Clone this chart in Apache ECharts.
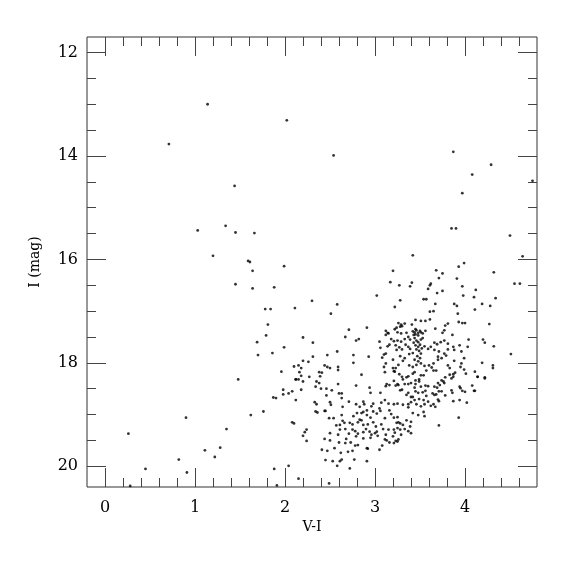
<!DOCTYPE html>
<html>
<head>
<meta charset="utf-8">
<script src="https://cdn.jsdelivr.net/npm/echarts@6/dist/echarts.min.js"></script>
<style>
  html, body { margin: 0; padding: 0; background: #fff; }
  #cmd { width: 575px; height: 575px; }
</style>
</head>
<body>
<div id="cmd"></div>
<script>
// axis ranges (V-I colour, I magnitude)
var viRange = [-0.2, 4.8];
var magRange = [11.7, 20.4];
var viTicks = [0, 4, 1];       // major ticks: min, max, step
var viMinor = [0, 4.6, 0.2];   // minor ticks
var magTicks = [12, 20, 2];

// field stars above / left of the main clump
var brightStars = [
  [1.14,13.0],[2.02,13.31],[0.71,13.77],[1.44,14.58],[1.34,15.35],[1.03,15.44],[1.45,15.48],[1.66,15.49],
  [1.2,15.93],[1.59,16.03],[1.61,16.05],[1.64,16.22],[1.99,16.13],[1.45,16.48],[1.64,16.56],[1.88,16.54],
  [1.78,16.96],[1.84,16.96],[1.81,17.26],[2.54,13.99],[3.87,13.92],[4.29,14.17],[4.08,14.36],[4.75,14.48],
  [3.97,14.72],[3.85,15.4],[3.9,15.4],[4.5,15.54],[3.42,15.92],[4.64,15.94],[3.99,16.07],[3.93,16.14],
  [4.55,16.47],[4.61,16.47]
];

// faint blue side (left edge of the diagram)
var faintStars = [
  [1.79,17.47],[1.69,17.6],[1.99,17.7],[1.86,17.81],[1.7,17.85],[1.96,18.17],[1.48,18.32],[1.98,18.52],
  [1.98,18.61],[1.87,18.67],[1.9,18.68],[1.76,18.94],[1.62,19.01],[0.9,19.06],[1.35,19.28],[1.28,19.64],
  [1.11,19.69],[1.22,19.82],[0.82,19.87],[0.91,20.12],[1.88,20.05],[0.26,19.37],[0.45,20.05],[0.28,20.38],
  [2.04,18.59],[2.08,18.55],[2.12,18.72],[2.08,19.15],[2.1,19.17],[1.91,20.37],[2.04,19.99],[2.15,20.24],
  [2.12,18.32],[2.49,20.33],[4.51,17.83],[4.31,18.05],[4.31,18.1],[4.22,18.3],[4.14,18.27],[4.32,17.68],
  [4.1,18.54]
];

// upper part of the red clump
var clumpUpper = [
  [3.2,16.22],[3.17,16.44],[3.02,16.7],[2.3,16.8],[2.58,16.87],[2.11,16.94],[2.51,17.05],[2.71,17.36],
  [2.91,17.32],[3.12,17.38],[3.14,17.42],[3.12,17.46],[3.15,17.43],[2.67,17.5],[2.79,17.57],[2.82,17.54],
  [2.2,17.51],[2.31,17.61],[3.05,17.59],[3.18,17.54],[3.21,17.58],[3.06,17.71],[3.14,17.68],[3.16,17.65],
  [2.58,17.78],[3.1,17.84],[3.08,17.9],[3.12,17.82],[2.31,17.88],[2.47,17.85],[2.76,17.85],[2.93,17.88],
  [2.2,17.96],[2.26,17.98],[2.1,18.07],[2.15,18.05],[2.18,18.1],[2.44,18.05],[2.5,18.1],[2.47,18.08],
  [2.59,18.08],[2.76,18.0],[3.12,18.01],[3.1,18.08],[3.2,17.94],[3.2,18.1],
  [3.68,16.21],[3.75,16.27],[4.32,16.25],[3.71,16.36],[3.91,16.37],[3.41,16.45],[3.39,16.52],[3.27,16.5],
  [3.62,16.47],[3.61,16.5],[3.97,16.52],[3.59,16.57],[4.12,16.59],[3.75,16.61],[3.69,16.65],[3.98,16.7],
  [4.1,16.73],[4.34,16.75],[3.28,16.79],[3.54,16.77],[3.57,16.77],[3.67,16.86],[3.88,16.86],[3.91,16.9],
  [4.19,16.86],[4.28,16.9],[3.22,16.92],[4.11,16.97],[3.61,17.01],[3.65,17.0],[3.92,17.05],[3.45,17.17],
  [3.51,17.19],[3.56,17.19],[3.61,17.16],[3.93,17.21],[3.97,17.23],[4.0,17.23],[3.81,17.24],[3.78,17.28],
  [4.27,17.25],[3.26,17.23],[3.29,17.26],[3.33,17.24],[3.28,17.3],[3.3,17.29],[3.24,17.32],[3.22,17.35],
  [3.41,17.26],[3.45,17.35],[3.67,17.34],[3.77,17.37],[3.86,17.46],[3.42,17.39],[3.44,17.41],[3.46,17.37],
  [3.48,17.42],[3.5,17.38],[3.51,17.41],[3.43,17.46],[3.45,17.45],[3.48,17.47],[3.53,17.43],[3.56,17.38],
  [3.25,17.41],[3.29,17.43],[3.35,17.42],[3.37,17.5],[3.33,17.54],[3.39,17.55],[3.29,17.59],[3.25,17.57],
  [3.23,17.66],[3.75,17.42],[3.44,17.52],[3.53,17.52],[3.51,17.55],[3.46,17.57],[3.48,17.6],[3.43,17.61],
  [3.45,17.66],[3.5,17.65],[3.55,17.68],[4.04,17.55],[4.2,17.55],[4.22,17.61],[3.66,17.61],[3.69,17.64],
  [3.73,17.6],[3.77,17.57],[3.81,17.63],[3.87,17.69],[3.94,17.66],[4.03,17.69],[3.62,17.69],[3.59,17.73],
  [3.48,17.69],[3.52,17.72],[3.46,17.74],[3.49,17.77],[3.39,17.73],[3.37,17.69],[3.34,17.65],[3.3,17.74],
  [3.27,17.7],[3.24,17.75],[3.42,17.81],[3.51,17.82],[3.38,17.83],[3.66,17.75],[3.71,17.78],[3.77,17.82],
  [3.81,17.74],[3.88,17.75],[3.96,17.78],[3.7,17.88],[3.74,17.91],[3.79,17.86],[3.47,17.87],[3.5,17.91],
  [3.44,17.94],[3.33,17.91],[3.28,17.87],[3.31,17.96],[3.26,18.04],[3.23,18.1],[3.38,18.05],[3.42,18.08],
  [3.46,18.04],[3.48,17.97],[3.51,18.01],[3.55,18.06],[3.6,18.05],[3.63,18.09],[3.65,18.01],[3.7,17.94],
  [3.81,18.05],[3.83,18.1],[3.88,17.96],[3.96,18.01],[3.99,17.91],[4.19,18.0],[3.95,18.08],[3.99,18.13]
];

// lower, fainter part of the clump
var clumpLower = [
  [2.16,18.18],[2.18,18.25],[2.12,18.32],[2.15,18.32],[2.2,18.36],[2.27,18.27],[2.39,18.26],[2.38,18.18],
  [2.41,18.19],[2.59,18.14],[2.85,18.23],[3.11,18.18],[3.21,18.16],[2.35,18.36],[2.38,18.39],[2.59,18.41],
  [2.46,18.5],[2.34,18.46],[2.4,18.5],[2.79,18.44],[2.94,18.48],[3.13,18.41],[3.16,18.43],[3.12,18.45],
  [3.21,18.35],[2.18,18.52],[2.52,18.53],[2.6,18.59],[2.63,18.59],[2.95,18.58],[3.06,18.58],[2.46,18.63],
  [2.5,18.76],[2.33,18.76],[2.35,18.8],[2.63,18.68],[2.71,18.75],[2.51,18.81],[2.79,18.8],[2.87,18.75],
  [2.88,18.8],[2.98,18.79],[3.07,18.77],[3.11,18.72],[3.15,18.79],[3.21,18.8],[2.64,18.85],[2.34,18.94],
  [2.36,18.96],[2.44,18.93],[2.45,18.93],[2.83,18.85],[2.91,18.92],[2.8,18.97],[2.85,18.97],[2.87,18.95],
  [2.96,18.84],[2.98,18.94],[3.05,18.88],[3.06,18.93],[3.16,18.92],[2.63,19.01],[2.49,19.07],[2.54,19.07],
  [2.76,19.03],[2.83,19.1],[2.91,19.01],[2.95,19.06],[3.02,18.98],[3.11,19.07],[3.18,18.99],[3.21,19.06],
  [2.64,19.12],[2.66,19.16],[2.61,19.2],[2.72,19.16],[2.75,19.19],[2.81,19.15],[2.85,19.11],[2.87,19.2],
  [2.92,19.19],[2.98,19.15],[3.01,19.23],[3.07,19.19],[3.09,19.28],[3.15,19.29],[3.21,19.29],[2.57,19.21],
  [2.5,19.36],[2.61,19.29],[2.67,19.28],[2.75,19.29],[2.78,19.32],[2.81,19.37],[2.87,19.34],[2.9,19.28],
  [2.94,19.33],[2.96,19.39],[3.0,19.36],[3.02,19.33],[2.71,19.37],[2.22,19.34],[2.2,19.41],[2.24,19.29],
  [2.44,19.47],[2.5,19.5],[2.59,19.39],[2.68,19.47],[2.79,19.42],[2.87,19.46],[2.95,19.45],[3.03,19.41],
  [3.11,19.48],[3.13,19.5],[3.2,19.42],[2.24,19.51],[2.6,19.54],[2.67,19.55],[2.73,19.54],[2.78,19.6],
  [2.75,19.7],[2.81,19.59],[2.91,19.65],[2.92,19.66],[3.05,19.68],[2.7,19.72],[2.41,19.68],[2.47,19.7],
  [2.55,19.65],[2.62,19.74],[2.53,19.9],[2.61,19.9],[2.63,19.87],[2.77,19.87],[2.91,19.9],[2.58,19.99],
  [2.72,20.04],[2.45,19.88],[3.08,19.6],[3.21,19.55],[3.16,19.54],[3.12,19.39],
  [3.22,18.17],[3.27,18.22],[3.3,18.27],[3.31,18.32],[3.35,18.28],[3.37,18.26],[3.42,18.21],[3.44,18.18],
  [3.51,18.24],[3.54,18.24],[3.49,18.32],[3.57,18.15],[3.65,18.15],[3.68,18.15],[3.83,18.23],[3.87,18.22],
  [3.89,18.19],[3.87,18.27],[3.85,18.3],[3.78,18.28],[3.74,18.34],[3.76,18.36],[3.7,18.39],[4.01,18.21],
  [4.11,18.17],[4.14,18.27],[4.22,18.28],[3.25,18.41],[3.26,18.43],[3.23,18.44],[3.33,18.41],[3.37,18.41],
  [3.4,18.39],[3.45,18.34],[3.45,18.41],[3.49,18.36],[3.44,18.48],[3.51,18.46],[3.56,18.44],[3.59,18.45],
  [3.66,18.46],[3.69,18.48],[3.72,18.43],[3.77,18.39],[3.71,18.55],[3.74,18.55],[3.64,18.59],[3.66,18.62],
  [3.68,18.61],[3.78,18.63],[3.85,18.53],[3.86,18.58],[3.94,18.46],[3.95,18.49],[3.97,18.54],[4.0,18.56],
  [4.08,18.44],[4.11,18.54],[3.3,18.52],[3.28,18.53],[3.35,18.62],[3.37,18.58],[3.4,18.66],[3.42,18.66],
  [3.45,18.55],[3.48,18.58],[3.53,18.57],[3.56,18.54],[3.57,18.64],[3.59,18.75],[3.62,18.83],[3.65,18.8],
  [3.67,18.85],[3.7,18.71],[3.71,18.74],[3.54,18.72],[3.49,18.7],[3.44,18.72],[3.46,18.8],[3.4,18.76],
  [3.37,18.8],[3.25,18.79],[3.31,18.81],[3.37,18.86],[3.51,18.84],[3.55,18.8],[3.87,18.74],[3.94,18.72],
  [4.02,18.77],[3.42,18.97],[3.48,19.01],[3.54,18.95],[3.55,19.03],[3.25,19.05],[3.24,19.16],[3.26,19.15],
  [3.28,19.17],[3.35,19.11],[3.4,19.14],[3.31,19.2],[3.39,19.23],[3.25,19.26],[3.28,19.29],[3.33,19.28],
  [3.37,19.32],[3.4,19.36],[3.29,19.39],[3.26,19.48],[3.23,19.51],[3.25,19.52],[3.71,19.21],[3.93,19.06],
  [3.22,19.35]
];

var allStars = brightStars.concat(faintStars, clumpUpper, clumpLower);

var serif = 'DejaVu Serif';
var lineCol = '#333';
var tickCol = '#444';

// plot area in pixels; tick grids are placed inside it by value
var plot = { left: 87, top: 37, width: 450, height: 450 };
var pxPerVi = plot.width / (viRange[1] - viRange[0]);
var pxPerMag = plot.height / (magRange[1] - magRange[0]);

function hidden(idx) {
  return { gridIndex: idx, type: 'value', show: false, min: 0, max: 1 };
}

var chart = echarts.init(document.getElementById('cmd'));
chart.setOption({
  animation: false,
  backgroundColor: '#fff',
  grid: [
    { left: plot.left, top: plot.top, width: plot.width, height: plot.height,
      show: true, borderColor: lineCol, borderWidth: 1, backgroundColor: 'transparent' },
    { left: plot.left + (viTicks[0] - viRange[0]) * pxPerVi, top: plot.top,
      width: (viTicks[1] - viTicks[0]) * pxPerVi, height: plot.height },
    { left: plot.left + (viMinor[0] - viRange[0]) * pxPerVi, top: plot.top,
      width: (viMinor[1] - viMinor[0]) * pxPerVi, height: plot.height },
    { left: plot.left, width: plot.width,
      top: plot.top + (magTicks[0] - magRange[0]) * pxPerMag,
      height: (magTicks[1] - magTicks[0]) * pxPerMag }
  ],
  xAxis: [
    { gridIndex: 0, type: 'value', min: viRange[0], max: viRange[1],
      axisLine: { show: false }, axisTick: { show: false }, axisLabel: { show: false },
      splitLine: { show: false },
      name: 'V-I', nameLocation: 'middle', nameGap: 33,
      nameTextStyle: { fontFamily: serif, fontSize: 14, color: '#000' } },
    { gridIndex: 1, type: 'value', position: 'bottom', min: viTicks[0], max: viTicks[1], interval: viTicks[2],
      axisLine: { show: false }, splitLine: { show: false },
      axisTick: { inside: true, length: 19, lineStyle: { color: tickCol, width: 1 } },
      axisLabel: { margin: 13, fontFamily: serif, fontSize: 16, color: '#000' } },
    { gridIndex: 1, type: 'value', position: 'top', min: viTicks[0], max: viTicks[1], interval: viTicks[2],
      axisLine: { show: false }, splitLine: { show: false }, axisLabel: { show: false },
      axisTick: { inside: true, length: 19, lineStyle: { color: tickCol, width: 1 } } },
    { gridIndex: 2, type: 'value', position: 'bottom', min: viMinor[0], max: viMinor[1], interval: viMinor[2],
      axisLine: { show: false }, splitLine: { show: false }, axisLabel: { show: false },
      axisTick: { inside: true, length: 9, lineStyle: { color: tickCol, width: 1 } } },
    { gridIndex: 2, type: 'value', position: 'top', min: viMinor[0], max: viMinor[1], interval: viMinor[2],
      axisLine: { show: false }, splitLine: { show: false }, axisLabel: { show: false },
      axisTick: { inside: true, length: 9, lineStyle: { color: tickCol, width: 1 } } },
    hidden(3)
  ],
  yAxis: [
    { gridIndex: 0, type: 'value', min: magRange[0], max: magRange[1], inverse: true,
      axisLine: { show: false }, axisTick: { show: false }, axisLabel: { show: false },
      splitLine: { show: false },
      name: 'I (mag)', nameLocation: 'middle', nameGap: 45,
      nameTextStyle: { fontFamily: serif, fontSize: 14, color: '#000' } },
    hidden(1),
    hidden(2),
    { gridIndex: 3, type: 'value', position: 'left', min: magTicks[0], max: magTicks[1], interval: magTicks[2],
      inverse: true, axisLine: { show: false }, splitLine: { show: false },
      axisTick: { inside: true, length: 19, lineStyle: { color: tickCol, width: 1 } },
      minorTick: { show: true, splitNumber: 4, length: 9, lineStyle: { color: tickCol, width: 1 } },
      axisLabel: { margin: 9, fontFamily: serif, fontSize: 16, color: '#000' } },
    { gridIndex: 3, type: 'value', position: 'right', min: magTicks[0], max: magTicks[1], interval: magTicks[2],
      inverse: true, axisLine: { show: false }, splitLine: { show: false }, axisLabel: { show: false },
      axisTick: { inside: true, length: 19, lineStyle: { color: tickCol, width: 1 } },
      minorTick: { show: true, splitNumber: 4, length: 9, lineStyle: { color: tickCol, width: 1 } } }
  ],
  series: [{
    type: 'scatter',
    xAxisIndex: 0,
    yAxisIndex: 0,
    symbol: 'circle',
    symbolSize: 2.8,
    itemStyle: { color: '#000' },
    silent: true,
    clip: true,
    data: allStars
  }]
});
</script>
</body>
</html>
